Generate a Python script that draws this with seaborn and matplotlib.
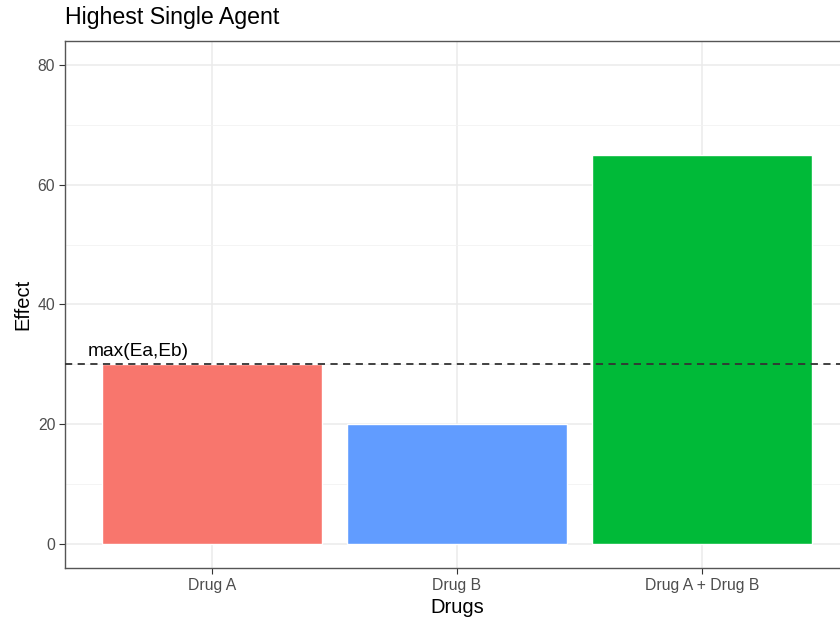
import pandas as pd
import matplotlib
matplotlib.use('Agg')
import matplotlib.pyplot as plt
import seaborn as sns
from matplotlib.ticker import MultipleLocator

# Data
drugs = ['Drug A', 'Drug B', 'Drug A + Drug B']
effects = [30, 20, 65]
colors = ['#F8766D', '#619CFF', '#00BA38']
hsa_level = max(effects[0], effects[1])

df = pd.DataFrame({'Drugs': drugs, 'Effect': effects})

sns.set_style('white')
plt.rcParams['font.family'] = ['Liberation Sans', 'DejaVu Sans']

fig = plt.figure(figsize=(8.4, 6.19), dpi=100)
# panel runs slightly past the right edge, as in the reference
ax = fig.add_axes([65 / 840, (619 - 568) / 619, (849 - 65) / 840, (568 - 41) / 619])

sns.barplot(data=df, x='Drugs', y='Effect', hue='Drugs', palette=colors,
            width=0.9, saturation=1, legend=False, ax=ax, zorder=2)

ax.axhline(hsa_level, color='#333333', linestyle=(0, (4, 3)), linewidth=1.3, zorder=3)
ax.text(-0.3, hsa_level + 0.8, 'max(Ea,Eb)', ha='center', va='bottom',
        fontsize=13.8, color='black', zorder=4)

ax.set_xlim(-0.6, 2.6)
ax.set_ylim(-4, 84)
ax.yaxis.set_major_locator(MultipleLocator(20))
ax.yaxis.set_minor_locator(MultipleLocator(10))

ax.grid(True, which='major', color='#EBEBEB', linewidth=1.1, zorder=0)
ax.grid(True, which='minor', axis='y', color='#F2F2F2', linewidth=0.6, zorder=0)
ax.set_axisbelow(True)

for s in ax.spines.values():
    s.set_color('#555555')
    s.set_linewidth(1.0)

ax.tick_params(axis='both', which='major', length=4, width=0.8, color='#333333',
               labelcolor='#4D4D4D', labelsize=11.3, pad=3, left=True, bottom=True)
ax.tick_params(axis='y', which='minor', length=0)

ax.set_xlabel('Drugs', fontsize=14.5, color='black', labelpad=4)
ax.set_ylabel('Effect', fontsize=14.5, color='black', labelpad=4)
ax.set_title('Highest Single Agent', fontsize=16.7, color='black', loc='left', pad=12)

fig.savefig('out.png', dpi=100)
